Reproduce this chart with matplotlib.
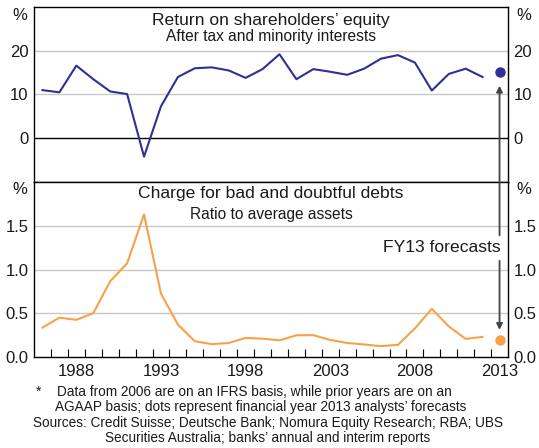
import matplotlib
matplotlib.use('Agg')
import matplotlib.pyplot as plt
import numpy as np

plt.rcParams['font.family'] = ['Liberation Sans', 'DejaVu Sans']

# data
years = list(range(1986, 2013))
roe = [11.0, 10.5, 16.6, 13.5, 10.7, 10.1, -4.2, 7.3, 14.0, 16.0, 16.2, 15.5, 13.8, 15.8,
       19.2, 13.5, 15.8, 15.2, 14.5, 15.9, 18.2, 19.0, 17.3, 10.9, 14.7, 15.9, 14.0]
bad_debts = [0.335, 0.45, 0.425, 0.50, 0.865, 1.07, 1.63, 0.725, 0.37, 0.18, 0.147, 0.16, 0.218, 0.21,
             0.19, 0.248, 0.25, 0.195, 0.16, 0.143, 0.124, 0.139, 0.327, 0.55, 0.35, 0.207, 0.23]
fc_year = 2013
roe_fc = 15.2
bad_fc = 0.19
year_labels = [1988, 1993, 1998, 2003, 2008, 2013]

blue = '#2e3192'
orange = '#f7a24b'
grid_c = '#c8c8c8'
txt = '#1a1a1a'

fig = plt.figure(figsize=(5.39, 4.48), dpi=100)
W, H = 539, 448
left, right = 34 / W, 508 / W
ax1 = fig.add_axes([left, 1 - 182 / H, right - left, 175 / H])
ax2 = fig.add_axes([left, 1 - 357 / H, right - left, 175 / H])

for ax in (ax1, ax2):
    ax.set_xlim(1985.5, 2013.5)
    for s in ax.spines.values():
        s.set_color('black')
        s.set_linewidth(1.0)
    ax.tick_params(axis='y', length=0, labelleft=True, labelright=True,
                   labelsize=12, colors=txt, pad=4)

# top panel
ax1.set_ylim(-10, 30)
ax1.set_yticks([0, 10, 20])
for v in [10, 20]:
    ax1.axhline(v, color=grid_c, lw=1.0, zorder=0)
ax1.axhline(0, color='black', lw=1.0, zorder=1)
ax1.plot(years, roe, color=blue, lw=1.5, zorder=3)
ax1.plot([fc_year], [roe_fc], 'o', color=blue, ms=6.5, zorder=4)
ax1.set_xticks([])
ax1.text(0.5, 0.925, 'Return on shareholders\u2019 equity', transform=ax1.transAxes,
         ha='center', va='center', fontsize=12.6, color=txt)
ax1.text(0.5, 0.83, 'After tax and minority interests', transform=ax1.transAxes,
         ha='center', va='center', fontsize=11.2, color=txt)

# bottom panel
ax2.set_ylim(0, 2)
ax2.set_yticks([0, 0.5, 1.0, 1.5])
ax2.set_yticklabels(['0.0', '0.5', '1.0', '1.5'])
for v in [0.5, 1.0, 1.5]:
    ax2.axhline(v, color=grid_c, lw=1.0, zorder=0)
ax2.plot(years, bad_debts, color=orange, lw=1.5, zorder=3)
ax2.plot([fc_year], [bad_fc], 'o', color=orange, ms=6.5, zorder=4)
ax2.set_xticks(np.arange(1986.5, 2013, 1.0))
ax2.set_xticklabels([])
ax2.tick_params(axis='x', which='major', direction='in', length=6, width=0.8, color='black')
ax2.set_xticks(year_labels, minor=True)
ax2.set_xticklabels([str(y) for y in year_labels], minor=True)
ax2.tick_params(axis='x', which='minor', length=0, labelsize=12, colors=txt, pad=5)
ax2.text(0.5, 0.937, 'Charge for bad and doubtful debts', transform=ax2.transAxes,
         ha='center', va='center', fontsize=12.6, color=txt)
ax2.text(0.5, 0.817, 'Ratio to average assets', transform=ax2.transAxes,
         ha='center', va='center', fontsize=11.2, color=txt)

# % labels
for yy in [15, 189]:
    fig.text(20 / W, 1 - yy / H, '%', ha='center', va='center', fontsize=12, color=txt)
    fig.text(524 / W, 1 - yy / H, '%', ha='center', va='center', fontsize=12, color=txt)

# forecast arrows
arr = dict(arrowstyle='-|>', color='#444444', lw=1.3, mutation_scale=9, shrinkA=0, shrinkB=0)
ax2.annotate('', xy=(fc_year, 12), xycoords=ax1.transData,
             xytext=(fc_year, 1.39), textcoords=ax2.transData,
             arrowprops=arr, annotation_clip=False)
ax2.annotate('', xy=(fc_year, 0.31), xytext=(fc_year, 1.10),
             arrowprops=arr, annotation_clip=False)
ax2.text(fc_year + 0.05, 1.25, 'FY13 forecasts', ha='right', va='center', fontsize=12.6, color=txt)

# notes
fs = 9.8
fig.text(36 / W, 1 - 392 / H, '*', ha='left', va='center', fontsize=fs, color=txt)
fig.text(57 / W, 1 - 392 / H, 'Data from 2006 are on an IFRS basis, while prior years are on an',
         ha='left', va='center', fontsize=fs, color=txt)
fig.text(55 / W, 1 - 407 / H, 'AGAAP basis; dots represent financial year 2013 analysts\u2019 forecasts',
         ha='left', va='center', fontsize=fs, color=txt)
fig.text(268 / W, 1 - 423 / H, 'Sources: Credit Suisse; Deutsche Bank; Nomura Equity Research; RBA; UBS',
         ha='center', va='center', fontsize=fs, color=txt)
fig.text(268 / W, 1 - 438 / H, 'Securities Australia; banks\u2019 annual and interim reports',
         ha='center', va='center', fontsize=fs, color=txt)

fig.savefig('out.png', dpi=100, facecolor='white')
